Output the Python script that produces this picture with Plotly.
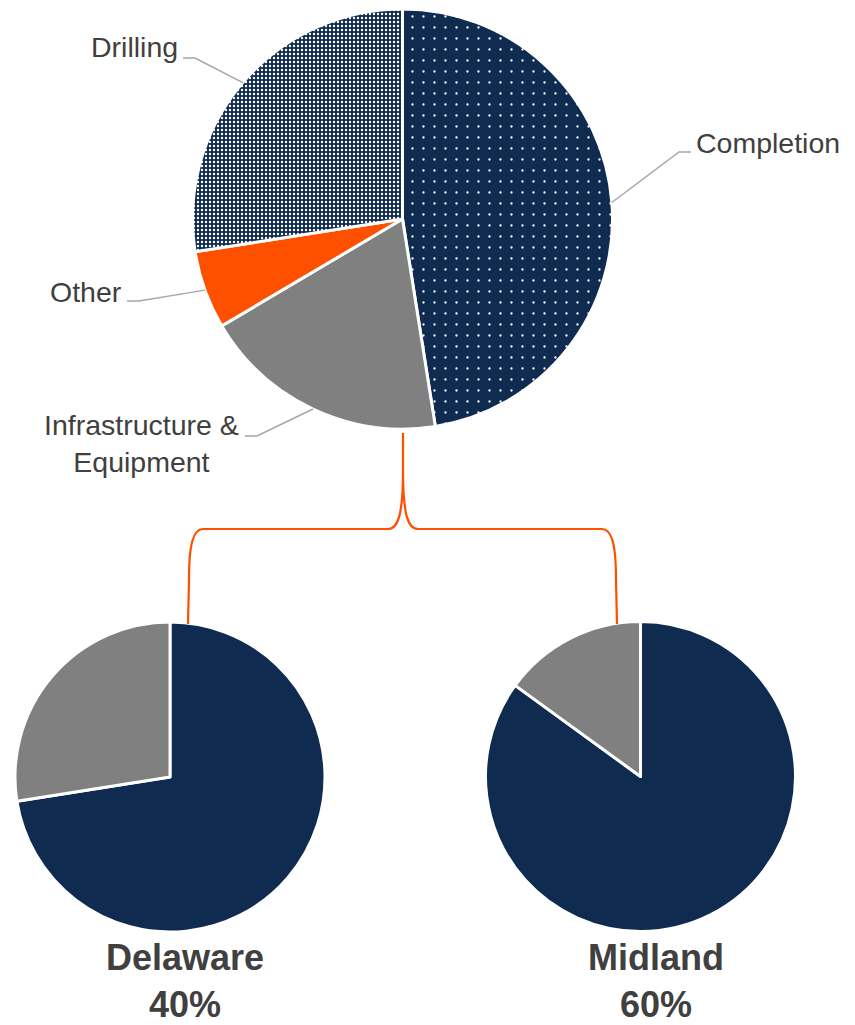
import math
import plotly.graph_objects as go

# ---- data -------------------------------------------------------------
spend_labels = ["Completion", "Infrastructure &<br>Equipment", "Other", "Drilling"]
spend_values = [47.5, 19.0, 6.0, 27.5]

basin_names = ["Delaware", "Midland"]
basin_shares = ["40%", "60%"]
delaware_values = [72.5, 27.5]   # navy, gray
midland_values = [85.0, 15.0]    # navy, gray

# ---- style ------------------------------------------------------------
W, H = 855, 1025
NAVY = "#102B50"
GRAY = "#808080"
ORANGE = "#FF5000"
TEXT = "#404040"
LEADER = "#A6A6A6"
FONT = "Liberation Sans, Arial, sans-serif"


def px(x):
    return x / W


def py(y):
    return 1 - y / H


def domain(cx, cy, r):
    return dict(x=[px(cx - r), px(cx + r)], y=[py(cy + r), py(cy - r)])


TOP = (402.5, 219.0, 210.0)
DEL = (170.0, 777.0, 155.0)
MID = (640.5, 776.5, 155.0)

fig = go.Figure()

slice_colors = [NAVY, GRAY, ORANGE, NAVY]
fig.add_trace(go.Pie(
    values=spend_values, labels=spend_labels,
    domain=domain(*TOP), sort=False, direction="clockwise", rotation=0,
    textinfo="none", hoverinfo="skip", showlegend=False,
    marker=dict(
        colors=slice_colors,
        line=dict(color="white", width=3),
        pattern=dict(shape=[".", "", "", "."], fillmode="replace",
                     bgcolor=slice_colors,
                     fgcolor=["white", GRAY, ORANGE, "white"],
                     fgopacity=1, size=[11, 8, 8, 4],
                     solidity=[0.035, 0.2, 0.2, 0.28]),
    ),
))

for vals, geo in ((delaware_values, DEL), (midland_values, MID)):
    fig.add_trace(go.Pie(
        values=vals, labels=["a", "b"],
        domain=domain(*geo), sort=False, direction="clockwise", rotation=0,
        textinfo="none", hoverinfo="skip", showlegend=False,
        marker=dict(colors=[NAVY, GRAY], line=dict(color="white", width=3)),
    ))

# ---- labels with leader lines on the top pie -------------------------
# (text anchor x, text centre y, side, elbow start x, elbow y)
label_layout = {
    "Completion": (694, 143, "left", 691, 152),
    "Infrastructure &<br>Equipment": (241, 444, "right", 245, 436),
    "Other": (124, 292, "right", 127, 301),
    "Drilling": (180, 47, "right", 183, 58),
}

cx, cy, r = TOP
total = sum(spend_values)
start = 0.0
shapes = []
annotations = []
for lab, val in zip(spend_labels, spend_values):
    sweep = 360.0 * val / total
    mid = math.radians(start + sweep / 2)
    start += sweep
    ex = cx + r * math.sin(mid)
    ey = cy - r * math.cos(mid)
    tx, ty, side, lx, ly = label_layout[lab]
    kx = lx + (12 if side == "right" else -12)
    shapes.append(dict(
        type="path", xref="paper", yref="paper",
        path=f"M{px(lx)},{py(ly)} L{px(kx)},{py(ly)} L{px(ex)},{py(ey)}",
        line=dict(color=LEADER, width=1.5),
    ))
    annotations.append(dict(
        text=lab, x=px(tx), y=py(ty), xref="paper", yref="paper",
        xanchor=side if side == "left" else "right", yanchor="middle",
        align="center", showarrow=False,
        font=dict(family=FONT, size=28.5, color=TEXT),
    ))

# ---- bracket joining the infrastructure slice to the basin pies ------
bracket = [
    ("M", (403, 433)), ("L", (403, 470)),
    ("C", (403, 515), (398, 529), (388, 529)),
    ("L", (203, 529)),
    ("C", (193, 529), (189, 545), (189, 580)),
    ("L", (188, 624)),
    ("M", (403, 470)),
    ("C", (403, 515), (408, 529), (418, 529)),
    ("L", (602, 529)),
    ("C", (612, 529), (616, 545), (616, 580)),
    ("L", (617, 624)),
]
path = ""
for cmd, *pts in bracket:
    path += cmd + " ".join(f"{px(x)},{py(y)}" for x, y in pts) + " "
shapes.append(dict(type="path", xref="paper", yref="paper", path=path.strip(),
                   line=dict(color=ORANGE, width=2.2)))

# ---- basin captions ---------------------------------------------------
for name, share, (x, y) in zip(basin_names, basin_shares,
                               [(185, 981), (656, 981)]):
    annotations.append(dict(
        text=f"<b>{name}<br>{share}</b>", x=px(x), y=py(y),
        xref="paper", yref="paper", xanchor="center", yanchor="middle",
        align="center", showarrow=False, borderpad=0,
        font=dict(family=FONT, size=36, color=TEXT),
    ))

fig.update_layout(
    width=W, height=H, margin=dict(l=0, r=0, t=0, b=0),
    paper_bgcolor="white", plot_bgcolor="white",
    shapes=shapes, annotations=annotations,
)

fig.write_html("out.html")
